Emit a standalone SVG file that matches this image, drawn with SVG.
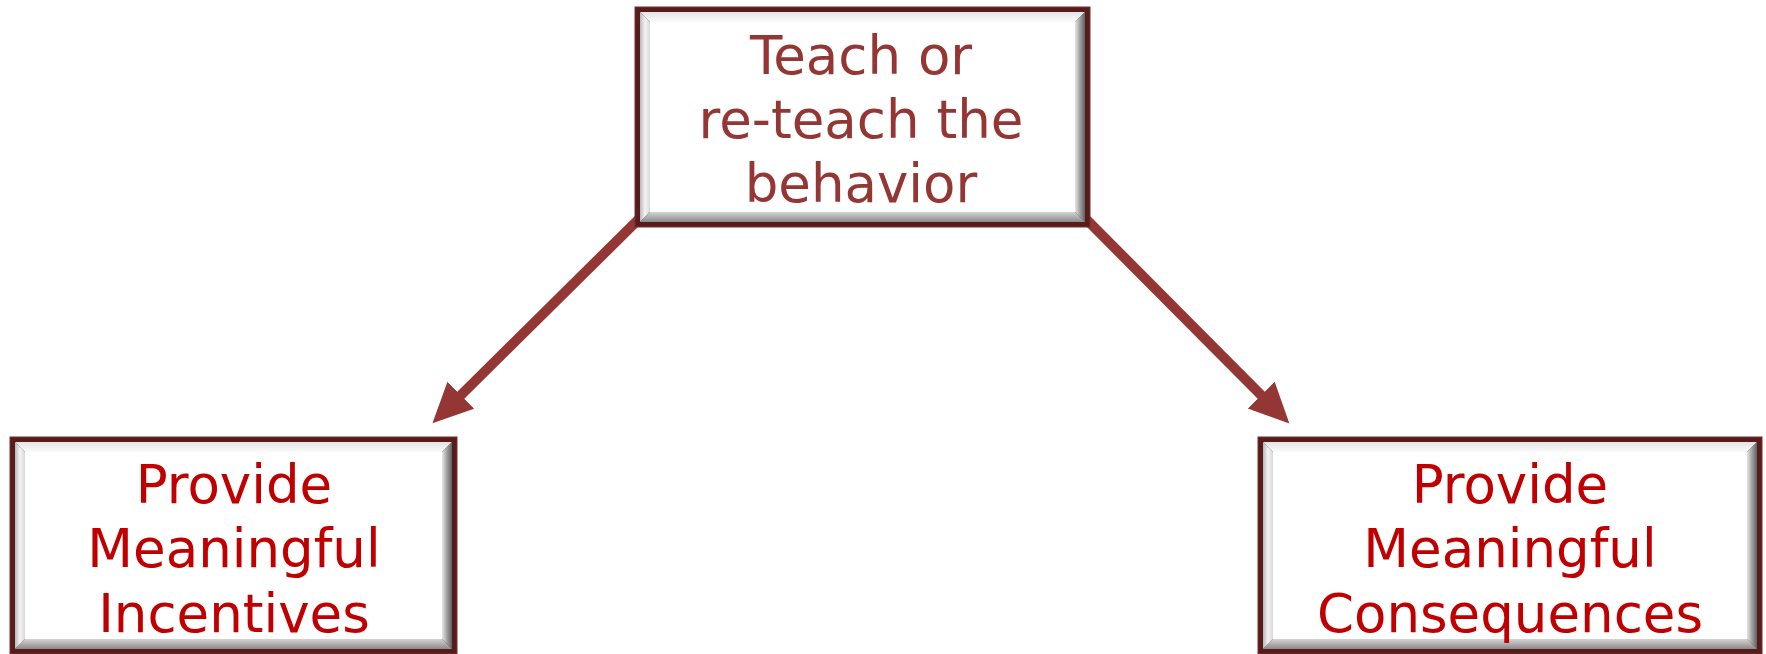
<svg xmlns="http://www.w3.org/2000/svg" width="1766" height="654" viewBox="0 0 1766 654">
<style>
.frame{fill:#561c1c;stroke:#7a2e2e;stroke-width:1}
.inner{fill:#ffffff}
.bl{fill:url(#gL)}
.bt{fill:url(#gT)}
.br{fill:url(#gR)}
.bb{fill:url(#gB)}
.t{font-family:"DejaVu Sans","Verdana",sans-serif;font-size:53px;text-anchor:middle}
.top{fill:#943634}
.bot{fill:#c00000}
.conn{stroke:#943634;stroke-width:10;fill:none;marker-end:url(#ah)}
</style>
<defs>
<linearGradient id="gL" x1="0" y1="0" x2="1" y2="0"><stop offset="0" stop-color="#b8b8b8"/><stop offset="0.5" stop-color="#f4f4f4"/><stop offset="1" stop-color="#d8d8d8"/></linearGradient>
<linearGradient id="gT" x1="0" y1="0" x2="0" y2="1"><stop offset="0" stop-color="#e4e4e4"/><stop offset="1" stop-color="#fbfbfb"/></linearGradient>
<linearGradient id="gR" x1="0" y1="0" x2="1" y2="0"><stop offset="0" stop-color="#e8e8e8"/><stop offset="0.5" stop-color="#a0a0a0"/><stop offset="1" stop-color="#606060"/></linearGradient>
<linearGradient id="gB" x1="0" y1="0" x2="0" y2="1"><stop offset="0" stop-color="#d4d4d4"/><stop offset="1" stop-color="#8a8a8a"/></linearGradient>
<marker id="ah" markerUnits="userSpaceOnUse" markerWidth="44" markerHeight="44" refX="4" refY="19" orient="auto"><path d="M0,0 L40,19 L0,38 Z" fill="#943634"/></marker>
</defs>
<rect width="1766" height="654" fill="#ffffff"/>
<g id="connectors">
<line class="conn" x1="645" y1="213" x2="458" y2="398"/>
<line class="conn" x1="1080" y1="213" x2="1264" y2="398"/>
</g>
<g id="node-top">
<rect class="frame" x="635" y="7" width="455" height="220"/>
<polygon class="bt" points="640,12 1085,12 1075,22 650,22"/>
<polygon class="bl" points="640,12 650,22 650,212 640,222"/>
<polygon class="br" points="1085,12 1085,222 1075,212 1075,22"/>
<polygon class="bb" points="640,222 650,212 1075,212 1085,222"/>
<rect class="inner" x="650" y="22" width="425" height="190"/>
<text class="t top" x="861" y="74">Teach or</text>
<text class="t top" x="861" y="138">re-teach the</text>
<text class="t top" x="861" y="202">behavior</text>
</g>
<g id="node-left">
<rect class="frame" x="10" y="437" width="447" height="217"/>
<polygon class="bt" points="15,442 452,442 442,452 25,452"/>
<polygon class="bl" points="15,442 25,452 25,639 15,649"/>
<polygon class="br" points="452,442 452,649 442,639 442,452"/>
<polygon class="bb" points="15,649 25,639 442,639 452,649"/>
<rect class="inner" x="25" y="452" width="417" height="187"/>
<text class="t bot" x="234" y="503">Provide</text>
<text class="t bot" x="234" y="567">Meaningful</text>
<text class="t bot" x="234" y="632">Incentives</text>
</g>
<g id="node-right">
<rect class="frame" x="1258" y="437" width="504" height="217"/>
<polygon class="bt" points="1263,442 1757,442 1747,452 1273,452"/>
<polygon class="bl" points="1263,442 1273,452 1273,639 1263,649"/>
<polygon class="br" points="1757,442 1757,649 1747,639 1747,452"/>
<polygon class="bb" points="1263,649 1273,639 1747,639 1757,649"/>
<rect class="inner" x="1273" y="452" width="474" height="187"/>
<text class="t bot" x="1510" y="503">Provide</text>
<text class="t bot" x="1510" y="567">Meaningful</text>
<text class="t bot" x="1510" y="632">Consequences</text>
</g>
</svg>
